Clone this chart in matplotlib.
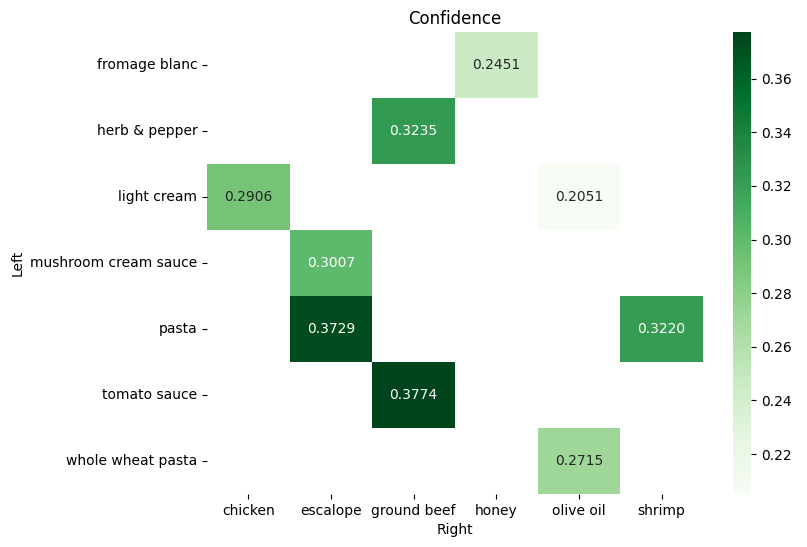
import numpy as np
import pandas as pd
import matplotlib
matplotlib.use("Agg")
import matplotlib.pyplot as plt
import seaborn as sns

# rule pairs: antecedent (Left) -> consequent (Right), confidence
left = ["fromage blanc", "herb & pepper", "light cream", "light cream",
        "mushroom cream sauce", "pasta", "pasta", "tomato sauce",
        "whole wheat pasta"]
right = ["honey", "ground beef", "chicken", "olive oil",
         "escalope", "escalope", "shrimp", "ground beef",
         "olive oil"]
confidence = [0.2451, 0.3235, 0.2906, 0.2051,
              0.3007, 0.3729, 0.3220, 0.3774,
              0.2715]

df = pd.DataFrame({"Left": left, "Right": right, "confidence": confidence})
table = df.pivot(index="Left", columns="Right", values="confidence")

fig = plt.figure(figsize=(8.07, 5.47), dpi=100)
ax = fig.add_axes([0.2565, 0.0969, 0.6146, 0.8446])
cax = fig.add_axes([0.9083, 0.0969, 0.0223, 0.8446])

sns.heatmap(table, annot=True, fmt=".4f", cmap="Greens", ax=ax, cbar_ax=cax)
ax.set_title("Confidence")

fig.savefig("out.png", dpi=100)
